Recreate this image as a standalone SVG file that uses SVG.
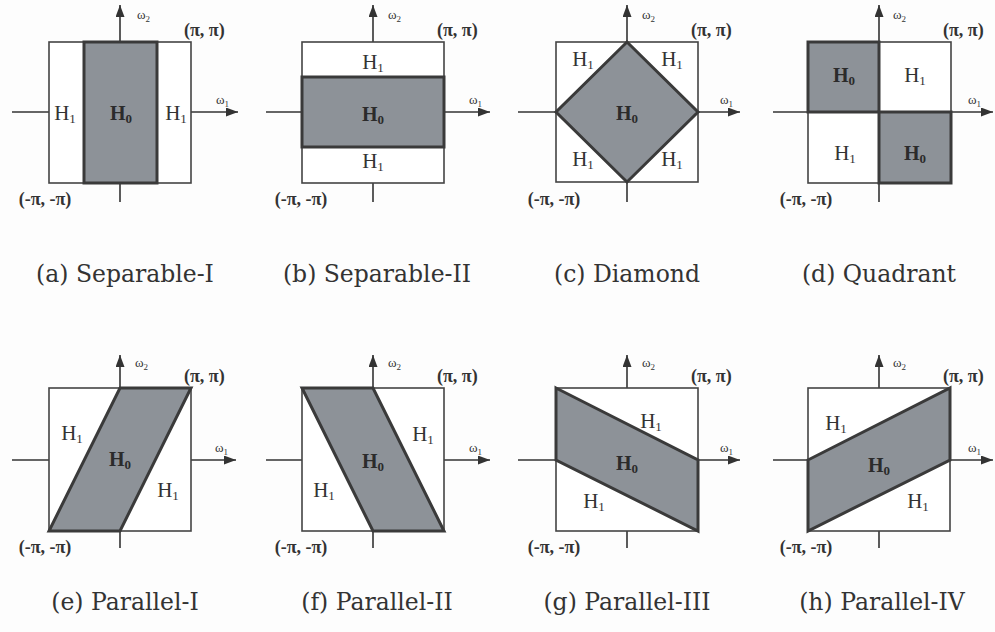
<svg xmlns="http://www.w3.org/2000/svg" width="995" height="632" viewBox="0 0 995 632">
<defs>
<style>
.bg{fill:#fdfdfd}
.ax{stroke:#333;stroke-width:1.6;fill:none}
.box{fill:#fff;stroke:#444;stroke-width:1.6}
.sh{fill:#8d9298;stroke:#3a3a3a;stroke-width:3;stroke-linejoin:miter}
.h{font-family:"Liberation Serif","DejaVu Serif",serif;font-size:21px;fill:#333;text-anchor:middle}
.h0{font-family:"Liberation Serif","DejaVu Serif",serif;font-size:20px;font-weight:bold;fill:#2b2b2b;text-anchor:middle}
.sub{font-size:13px}
.w{font-family:"Liberation Serif","DejaVu Serif",serif;font-size:13px;fill:#333}
.ws{font-size:9px}
.pi{font-family:"Liberation Serif","DejaVu Serif",serif;font-size:18px;font-weight:bold;fill:#333}
.cap{font-family:"DejaVu Serif","Liberation Serif",serif;font-size:23.5px;fill:#333;text-anchor:middle}
</style>
<marker id="arr" markerUnits="userSpaceOnUse" markerWidth="13" markerHeight="10" refX="12" refY="4.5" orient="auto">
<path d="M0,0 L12,4.5 L0,9 z" fill="#333"/>
</marker>
</defs>
<rect class="bg" x="0" y="0" width="995" height="632"/>

<g id="axes">
<line class="ax" x1="120" y1="202" x2="120" y2="5" marker-end="url(#arr)"/>
<line class="ax" x1="12" y1="112" x2="238" y2="112" marker-end="url(#arr)"/>
<line class="ax" x1="373" y1="202" x2="373" y2="5" marker-end="url(#arr)"/>
<line class="ax" x1="266" y1="112" x2="490" y2="112" marker-end="url(#arr)"/>
<line class="ax" x1="627" y1="202" x2="627" y2="5" marker-end="url(#arr)"/>
<line class="ax" x1="518" y1="112" x2="740" y2="112" marker-end="url(#arr)"/>
<line class="ax" x1="879" y1="202" x2="879" y2="5" marker-end="url(#arr)"/>
<line class="ax" x1="773" y1="112" x2="993" y2="112" marker-end="url(#arr)"/>

<line class="ax" x1="120" y1="548" x2="120" y2="355" marker-end="url(#arr)"/>
<line class="ax" x1="12" y1="460" x2="236" y2="460" marker-end="url(#arr)"/>
<line class="ax" x1="373" y1="548" x2="373" y2="355" marker-end="url(#arr)"/>
<line class="ax" x1="266" y1="460" x2="490" y2="460" marker-end="url(#arr)"/>
<line class="ax" x1="627" y1="548" x2="627" y2="355" marker-end="url(#arr)"/>
<line class="ax" x1="518" y1="460" x2="740" y2="460" marker-end="url(#arr)"/>
<line class="ax" x1="879" y1="548" x2="879" y2="355" marker-end="url(#arr)"/>
<line class="ax" x1="773" y1="460" x2="993" y2="460" marker-end="url(#arr)"/>
</g>

<g id="panel-a">
<rect class="box" x="49" y="42" width="142" height="141"/>
<rect class="sh" x="84" y="42" width="73" height="141"/>
<text class="h" x="65" y="120">H<tspan class="sub" dy="3">1</tspan></text>
<text class="h0" x="121" y="120">H<tspan class="sub" dy="3">0</tspan></text>
<text class="h" x="176" y="120">H<tspan class="sub" dy="3">1</tspan></text>
<text class="w" x="137" y="19">ω<tspan class="ws" dy="3">2</tspan></text>
<text class="w" x="216" y="104">ω<tspan class="ws" dy="3">1</tspan></text>
<text class="pi" x="184" y="36">(π, π)</text>
<text class="pi" x="45" y="205" text-anchor="middle">(-π, -π)</text>
<text class="cap" x="125" y="282">(a) Separable-I</text>
</g>

<g id="panel-b">
<rect class="box" x="302" y="42" width="142" height="141"/>
<rect class="sh" x="302" y="77" width="142" height="70"/>
<text class="h" x="373" y="69">H<tspan class="sub" dy="3">1</tspan></text>
<text class="h0" x="373" y="121">H<tspan class="sub" dy="3">0</tspan></text>
<text class="h" x="373" y="168">H<tspan class="sub" dy="3">1</tspan></text>
<text class="w" x="388" y="19">ω<tspan class="ws" dy="3">2</tspan></text>
<text class="w" x="469" y="104">ω<tspan class="ws" dy="3">1</tspan></text>
<text class="pi" x="437" y="36">(π, π)</text>
<text class="pi" x="301" y="205" text-anchor="middle">(-π, -π)</text>
<text class="cap" x="377" y="282">(b) Separable-II</text>
</g>

<g id="panel-c">
<rect class="box" x="556" y="42" width="142" height="140"/>
<polygon class="sh" points="627,42 698,112 627,182 556,112"/>
<text class="h" x="583" y="66">H<tspan class="sub" dy="3">1</tspan></text>
<text class="h" x="672" y="66">H<tspan class="sub" dy="3">1</tspan></text>
<text class="h0" x="627" y="120">H<tspan class="sub" dy="3">0</tspan></text>
<text class="h" x="583" y="166">H<tspan class="sub" dy="3">1</tspan></text>
<text class="h" x="672" y="166">H<tspan class="sub" dy="3">1</tspan></text>
<text class="w" x="642" y="19">ω<tspan class="ws" dy="3">2</tspan></text>
<text class="w" x="720" y="104">ω<tspan class="ws" dy="3">1</tspan></text>
<text class="pi" x="691" y="36">(π, π)</text>
<text class="pi" x="554" y="205" text-anchor="middle">(-π, -π)</text>
<text class="cap" x="627" y="282">(c) Diamond</text>
</g>

<g id="panel-d">
<rect class="box" x="808" y="42" width="143" height="141"/>
<rect class="sh" x="808" y="42" width="71" height="70"/>
<rect class="sh" x="879" y="112" width="72" height="71"/>
<text class="h0" x="844" y="82">H<tspan class="sub" dy="3">0</tspan></text>
<text class="h" x="915" y="82">H<tspan class="sub" dy="3">1</tspan></text>
<text class="h" x="845" y="160">H<tspan class="sub" dy="3">1</tspan></text>
<text class="h0" x="915" y="160">H<tspan class="sub" dy="3">0</tspan></text>
<text class="w" x="893" y="19">ω<tspan class="ws" dy="3">2</tspan></text>
<text class="w" x="968" y="104">ω<tspan class="ws" dy="3">1</tspan></text>
<text class="pi" x="943" y="36">(π, π)</text>
<text class="pi" x="806" y="205" text-anchor="middle">(-π, -π)</text>
<text class="cap" x="879" y="282">(d) Quadrant</text>
</g>

<g id="panel-e">
<rect class="box" x="49" y="388" width="142" height="143"/>
<polygon class="sh" points="120,388 191,388 120,531 49,531"/>
<text class="h" x="72" y="440">H<tspan class="sub" dy="3">1</tspan></text>
<text class="h0" x="120" y="466">H<tspan class="sub" dy="3">0</tspan></text>
<text class="h" x="168" y="497">H<tspan class="sub" dy="3">1</tspan></text>
<text class="w" x="135" y="367">ω<tspan class="ws" dy="3">2</tspan></text>
<text class="w" x="215" y="452">ω<tspan class="ws" dy="3">1</tspan></text>
<text class="pi" x="184" y="382">(π, π)</text>
<text class="pi" x="45" y="553" text-anchor="middle">(-π, -π)</text>
<text class="cap" x="125" y="610">(e) Parallel-I</text>
</g>

<g id="panel-f">
<rect class="box" x="302" y="388" width="142" height="143"/>
<polygon class="sh" points="302,388 373,388 444,531 373,531"/>
<text class="h" x="423" y="441">H<tspan class="sub" dy="3">1</tspan></text>
<text class="h0" x="373" y="468">H<tspan class="sub" dy="3">0</tspan></text>
<text class="h" x="324" y="497">H<tspan class="sub" dy="3">1</tspan></text>
<text class="w" x="388" y="367">ω<tspan class="ws" dy="3">2</tspan></text>
<text class="w" x="469" y="452">ω<tspan class="ws" dy="3">1</tspan></text>
<text class="pi" x="437" y="382">(π, π)</text>
<text class="pi" x="301" y="553" text-anchor="middle">(-π, -π)</text>
<text class="cap" x="377" y="610">(f) Parallel-II</text>
</g>

<g id="panel-g">
<rect class="box" x="556" y="388" width="142" height="143"/>
<polygon class="sh" points="556,388 698,460 698,531 556,460"/>
<text class="h" x="651" y="428">H<tspan class="sub" dy="3">1</tspan></text>
<text class="h0" x="627" y="470">H<tspan class="sub" dy="3">0</tspan></text>
<text class="h" x="594" y="508">H<tspan class="sub" dy="3">1</tspan></text>
<text class="w" x="642" y="367">ω<tspan class="ws" dy="3">2</tspan></text>
<text class="w" x="720" y="452">ω<tspan class="ws" dy="3">1</tspan></text>
<text class="pi" x="691" y="382">(π, π)</text>
<text class="pi" x="554" y="553" text-anchor="middle">(-π, -π)</text>
<text class="cap" x="627" y="610">(g) Parallel-III</text>
</g>

<g id="panel-h">
<rect class="box" x="808" y="388" width="142" height="143"/>
<polygon class="sh" points="808,460 950,388 950,460 808,531"/>
<text class="h" x="836" y="430">H<tspan class="sub" dy="3">1</tspan></text>
<text class="h0" x="879" y="472">H<tspan class="sub" dy="3">0</tspan></text>
<text class="h" x="918" y="508">H<tspan class="sub" dy="3">1</tspan></text>
<text class="w" x="893" y="367">ω<tspan class="ws" dy="3">2</tspan></text>
<text class="w" x="968" y="452">ω<tspan class="ws" dy="3">1</tspan></text>
<text class="pi" x="943" y="382">(π, π)</text>
<text class="pi" x="806" y="553" text-anchor="middle">(-π, -π)</text>
<text class="cap" x="882" y="610">(h) Parallel-IV</text>
</g>
</svg>
